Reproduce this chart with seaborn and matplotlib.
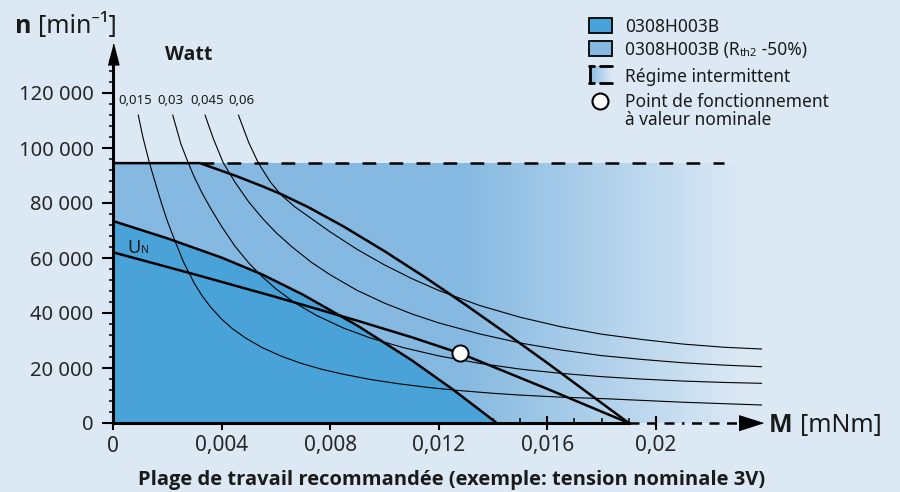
import matplotlib
matplotlib.use("Agg")
import matplotlib.pyplot as plt
from matplotlib import font_manager
from matplotlib.patches import Polygon, Rectangle
from matplotlib.lines import Line2D
import numpy as np
import pandas as pd
import seaborn as sns

# --- data (M in mNm, n in min^-1) ---
dark_M = [0, 0.002, 0.004, 0.0055, 0.007, 0.009, 0.011, 0.0125, 0.01414]
dark_n = [73450, 67150, 60150, 54000, 46650, 35450, 22850, 12350, 0]

light_M = [0, 0.0032, 0.0045, 0.0055, 0.0062, 0.0072, 0.0085, 0.01, 0.0115,
           0.013, 0.0145, 0.016, 0.019]
light_n = [94500, 94500, 89950, 86100, 83200, 78450, 71430, 62500, 52970,
           42920, 32490, 21840, 0]

intermittent_M = [0.0032, 0.0225]
intermittent_n = 94500
gradient_end_M = 0.0233

un_M = [0, 0.003, 0.006, 0.009, 0.011, 0.0128, 0.016, 0.019]
un_n = [62070, 54070, 45820, 37200, 31200, 25300, 12400, 0]

point_M = [0.0128]
point_n = [25300]

watt_labels = ["0,015", "0,03", "0,045", "0,06"]
watt_M = [
    [0.00093, 0.0011, 0.00134, 0.0016, 0.0018, 0.002, 0.00228, 0.0026, 0.003, 0.0033,
     0.0036, 0.004, 0.0044, 0.0049, 0.0055, 0.0062, 0.0069, 0.0077, 0.0085, 0.0095,
     0.0105, 0.0116, 0.0127, 0.014, 0.015, 0.0165, 0.0182, 0.021, 0.0239],
    [0.0022, 0.0025, 0.00277, 0.003, 0.0033, 0.0036, 0.004, 0.0045, 0.005, 0.0055,
     0.006, 0.0067, 0.0075, 0.0085, 0.0095, 0.0107, 0.012, 0.0135, 0.015, 0.0165,
     0.018, 0.0195, 0.021, 0.0225, 0.0239],
    [0.00339, 0.0037, 0.00406, 0.0045, 0.005, 0.0055, 0.006, 0.0066, 0.0073, 0.008,
     0.009, 0.01, 0.011, 0.012, 0.0135, 0.015, 0.0165, 0.018, 0.0195, 0.021,
     0.0225, 0.0239],
    [0.00462, 0.005, 0.00535, 0.0058, 0.0062, 0.0067, 0.0073, 0.008, 0.009, 0.01,
     0.011, 0.012, 0.0135, 0.015, 0.0165, 0.018, 0.0195, 0.021, 0.0225, 0.0239],
]
watt_n = [
    [112000, 104000, 94650, 86000, 79500, 73500, 66300, 58500, 50700, 46000,
     42100, 37800, 34300, 30800, 27400, 24300, 21800, 19500, 17700, 15800,
     14300, 12950, 11850, 10800, 10150, 9400, 8800, 7550, 6545],
    [112000, 101500, 94650, 89300, 83300, 78000, 71500, 64200, 58200, 53200,
     48800, 43700, 39100, 34500, 30850, 27400, 24400, 21700, 19600, 18050,
     16850, 15950, 15250, 14750, 14430],
    [112000, 103300, 94650, 87500, 80400, 74500, 69300, 64000, 58500, 53900,
     48200, 43600, 39700, 36400, 32400, 29100, 26550, 24500, 23100, 21900,
     21050, 20470],
    [112000, 102000, 94650, 87600, 82900, 78600, 74400, 69500, 63100, 57500,
     52550, 48200, 42750, 38450, 35000, 32300, 30350, 28700, 27550, 26900],
]
watt_label_M = [0.00018, 0.00162, 0.00284, 0.00424]
watt_label_n = 117400

xticks = [0, 0.004, 0.008, 0.012, 0.016, 0.02]
xtick_labels = ["0", "0,004", "0,008", "0,012", "0,016", "0,02"]
yticks = [0, 20000, 40000, 60000, 80000, 100000, 120000]
ytick_labels = ["0", "20 000", "40 000", "60 000", "80 000", "100 000", "120 000"]

BG = "#dce9f5"
DARK = "#49a3d8"
LIGHT = "#85b9e1"

sns.set_theme(style="white")
plt.rcParams["font.family"] = ["Noto Sans", "DejaVu Sans"]
plt.rcParams["text.color"] = "#1a1a1a"


def has_bold(name):
    for f in font_manager.fontManager.ttflist:
        if f.name == name and f.weight in (600, 700, 800, 900, "bold", "semibold", "heavy", "black"):
            return True
    return False


BOLD = next(n for n in ["Noto Sans", "Open Sans", "Lato", "Roboto", "DejaVu Sans"] if has_bold(n))
NARROW = has_bold("Liberation Sans Narrow")

W, H = 900, 492
fig = plt.figure(figsize=(W / 100, H / 100), dpi=100, facecolor=BG)
ax = fig.add_axes([113 / W, 69 / H, 665 / W, 385 / H])
ax.set_facecolor("none")
ax.set_xlim(0, 0.0245)
ax.set_ylim(0, 140000)


def fpx(x, y):
    return (x / W, 1 - y / H)


# gradient for the intermittent zone
xs = np.linspace(0, gradient_end_M, 400)
t = np.clip((xs - 0.0128) / (gradient_end_M - 0.0128), 0, 1)
c0 = np.array(matplotlib.colors.to_rgb(LIGHT))
c1 = np.array(matplotlib.colors.to_rgb(BG))
grad = (c0[None, :] * (1 - t[:, None]) + c1[None, :] * t[:, None])[None, :, :]
ax.imshow(grad, extent=[0, gradient_end_M, 0, intermittent_n], aspect="auto",
          origin="lower", zorder=0.5, interpolation="bilinear")

# recommended continuous region
ax.add_patch(Polygon(list(zip(dark_M + [0], dark_n + [0])), closed=True,
                     facecolor=DARK, edgecolor="none", zorder=1))

# iso-power curves
curves = pd.concat(
    [pd.DataFrame({"M": m, "n": n, "P": lab}) for lab, m, n in zip(watt_labels, watt_M, watt_n)],
    ignore_index=True,
)
sns.lineplot(data=curves, x="M", y="n", units="P", estimator=None, sort=False,
             color="black", lw=0.8, legend=False, ax=ax, zorder=3)

# boundaries and nominal voltage line
for m, n in [(dark_M, dark_n), (light_M, light_n), (un_M, un_n)]:
    sns.lineplot(x=m, y=n, sort=False, estimator=None, color="black", lw=1.8, ax=ax, zorder=4)
ax.plot(intermittent_M, [intermittent_n] * 2, color="black", lw=1.8, dashes=(5.5, 5.3), zorder=4)

ax.scatter(point_M, point_n, s=135, facecolor="white", edgecolor="black", lw=1.4, zorder=6)

# axes, ticks, arrows
for side in ["top", "right"]:
    ax.spines[side].set_visible(False)
for side in ["left", "bottom"]:
    ax.spines[side].set_color("black")
    ax.spines[side].set_linewidth(2.2)
    ax.spines[side].set_zorder(5)
ax.spines["left"].set_bounds(0, 134500)
ax.spines["bottom"].set_bounds(0, 0.019)
ax.plot([0.019, 0.0234], [0, 0], color="black", lw=1.8, clip_on=False, zorder=5,
        dashes=(4, 3, 4, 3, 4, 3, 1, 3))
ax.plot([0], [134200], marker=[(-0.26, -0.5), (0.26, -0.5), (0, 0.5)], ms=15,
        color="black", clip_on=False, zorder=6)
ax.plot([0.02352], [0], marker=[(-0.5, -0.32), (-0.5, 0.32), (0.5, 0)], ms=17,
        color="black", clip_on=False, zorder=6)

ax.set_xticks(xticks)
ax.set_xticklabels(xtick_labels)
ax.set_xticks(np.arange(0, 0.0195, 0.001), minor=True)
ax.set_yticks(yticks)
ax.set_yticklabels(ytick_labels)
ax.set_yticks(np.arange(0, 134000, 4000), minor=True)
ax.tick_params(axis="y", which="major", direction="out", length=8, width=1.5,
               color="black", labelsize=14.5, pad=6, left=True)
ax.tick_params(axis="y", which="minor", direction="out", length=3, width=1.1,
               color="black", left=True)
ax.tick_params(axis="x", which="major", direction="inout", length=10, width=1.5,
               color="black", labelsize=15, pad=4, bottom=True)
ax.tick_params(axis="x", which="minor", direction="in", length=3.5, width=1.1,
               color="black", bottom=True)
ax.set_xlabel("")
ax.set_ylabel("")

# watt labels and U_N
for lab, m in zip(watt_labels, watt_label_M):
    ax.text(m, watt_label_n, lab, fontsize=9.5, va="center", ha="left")
ax.text(0.00278, 133800, "Watt", fontsize=14, fontweight="bold", family=BOLD,
        va="center", ha="center")
u = ax.text(0.00052, 61800, "U", fontsize=13, va="baseline", ha="left", zorder=7)
ax.annotate("N", xy=(1, 0), xycoords=u, va="bottom", ha="left", fontsize=7.5,
            xytext=(0.2, 1.0), textcoords="offset points", zorder=7)

# axis titles
fig.text(*fpx(15, 33), "n", fontsize=18, fontweight="bold", family=BOLD, va="baseline", ha="left")
fig.text(*fpx(38, 33), "[min⁻¹]", fontsize=18, va="baseline", ha="left")
fig.text(*fpx(769, 432), "M", fontsize=18, fontweight="bold", family=BOLD, va="baseline", ha="left")
fig.text(*fpx(800, 432), "[mNm]", fontsize=18, va="baseline", ha="left")
title = "Plage de travail recommandée (exemple: tension nominale 3V)"
if NARROW:
    fig.text(*fpx(452, 480), title, fontsize=16, fontweight="bold",
             family="Liberation Sans Narrow", va="center", ha="center")
else:
    fig.text(*fpx(452, 480), title, fontsize=14.5, fontweight="bold", family=BOLD,
             va="center", ha="center")

# legend drawn by hand
tr = fig.transFigure
fig.add_artist(Rectangle(fpx(589, 33), 23 / W, 15 / H, facecolor=DARK,
                         edgecolor="black", lw=1.3, transform=tr))
fig.text(*fpx(625, 27), "0308H003B", fontsize=12.5, va="center", ha="left")
fig.add_artist(Rectangle(fpx(589, 56), 23 / W, 15 / H, facecolor=LIGHT,
                         edgecolor="black", lw=1.3, transform=tr))
t1 = fig.text(*fpx(625, 50), "0308H003B (R", fontsize=12.5, va="center", ha="left")
t2 = ax.annotate("th2", xy=(1, 0), xycoords=t1, va="bottom", ha="left", fontsize=8,
                 xytext=(0.2, 0), textcoords="offset points", annotation_clip=False)
ax.annotate(" -50%)", xy=(1, 0), xycoords=t2, va="bottom", ha="left", fontsize=12.5,
            annotation_clip=False)
leg_ax = fig.add_axes([591 / W, 1 - 83 / H, 21 / W, 17 / H])
leg_ax.imshow(grad[:, 240:, :], aspect="auto", extent=[0, 1, 0, 1])
leg_ax.set_axis_off()
fig.add_artist(Line2D([590 / W, 590 / W], [1 - 66 / H, 1 - 83 / H], color="black", lw=2, transform=tr))
for yy in [66, 83]:
    fig.add_artist(Line2D([589 / W, 594 / W], [1 - yy / H] * 2, color="black", lw=2, transform=tr))
    fig.add_artist(Line2D([600 / W, 612 / W], [1 - yy / H] * 2, color="black", lw=2, transform=tr))
fig.text(*fpx(625, 77), "Régime intermittent", fontsize=12.5, va="center", ha="left")
fig.add_artist(Line2D([600 / W], [1 - 101 / H], marker="o", ms=11.5, mfc="white",
                      mec="black", mew=1.5, transform=tr))
fig.text(*fpx(625, 102), "Point de fonctionnement", fontsize=12.5, va="center", ha="left")
fig.text(*fpx(625, 120), "à valeur nominale", fontsize=12.5, va="center", ha="left")

fig.savefig("out.png", dpi=100, facecolor=BG)
